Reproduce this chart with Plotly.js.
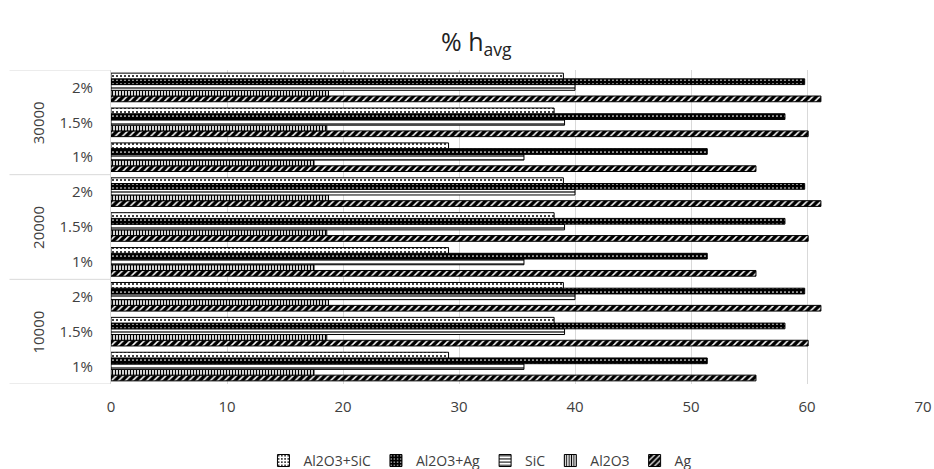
<!DOCTYPE html>
<html>
<head>
<meta charset="utf-8">
<script src="https://cdn.plot.ly/plotly-3.0.1.min.js"></script>
<style>html,body{margin:0;padding:0;background:#fff}#chart{width:934px;height:469px}</style>
</head>
<body>
<div id="chart"></div>
<script>
// Data
const groups = ['10000', '20000', '30000'];
const subs = ['1%', '1.5%', '2%'];
const seriesNames = ['Al2O3+SiC', 'Al2O3+Ag', 'SiC', 'Al2O3', 'Ag'];
// values per category, order: 10000 1%,1.5%,2%, 20000 ..., 30000 ...
const al2o3SiC = [29.1, 38.2, 39.0, 29.1, 38.2, 39.0, 29.1, 38.2, 39.0];
const al2o3Ag  = [51.4, 58.1, 59.8, 51.4, 58.1, 59.8, 51.4, 58.1, 59.8];
const sic      = [35.6, 39.1, 40.0, 35.6, 39.1, 40.0, 35.6, 39.1, 40.0];
const al2o3    = [17.5, 18.6, 18.75, 17.5, 18.6, 18.75, 17.5, 18.6, 18.75];
const ag       = [55.6, 60.1, 61.2, 55.6, 60.1, 61.2, 55.6, 60.1, 61.2];

const cats = [];
const catText = [];
groups.forEach(g => subs.forEach(s => { cats.push(g + ' ' + s); catText.push(s); }));

const FONT = '"Open Sans", Lato, sans-serif';
const TXT = '#404040';
const line = {color: '#000', width: 1};
function tr(name, vals, marker) {
  return {type: 'bar', orientation: 'h', name: name, y: cats, x: vals,
          marker: Object.assign({line: line}, marker), hoverinfo: 'x+name'};
}
// bottom-to-top drawing order within a group: Ag, Al2O3, SiC, Al2O3+Ag, Al2O3+SiC
const data = [
  tr(seriesNames[4], ag, {color: '#000', pattern: {shape: '/', bgcolor: '#000', fgcolor: '#fff', size: 5, solidity: 0.3}}),
  tr(seriesNames[3], al2o3, {color: '#fff', pattern: {shape: '|', bgcolor: '#fff', fgcolor: '#000', size: 3, solidity: 0.45}}),
  tr(seriesNames[2], sic, {color: '#fff', pattern: {shape: '-', bgcolor: '#fff', fgcolor: '#000', size: 4, solidity: 0.3}}),
  tr(seriesNames[1], al2o3Ag, {color: '#000', pattern: {shape: '.', bgcolor: '#000', fgcolor: '#fff', size: 4, solidity: 0.15}}),
  tr(seriesNames[0], al2o3SiC, {color: '#fff', pattern: {shape: '.', bgcolor: '#fff', fgcolor: '#000', size: 4, solidity: 0.2}})
];

const divLine = {color: '#d9d9d9', width: 1};
const shapes = [];
for (let i = 0; i <= groups.length; i++) {
  const yv = i * subs.length - 0.5;
  shapes.push({type: 'line', xref: 'paper', yref: 'y', x0: -0.125, x1: 0, y0: yv, y1: yv, line: divLine});
}
const annotations = groups.map((g, i) => ({
  text: g, xref: 'paper', yref: 'y', x: -0.09, xanchor: 'center', y: i * subs.length + (subs.length - 1) / 2,
  textangle: -90, showarrow: false, font: {family: FONT, size: 15, color: TXT}
}));

const layout = {
  width: 934, height: 469,
  margin: {l: 111, r: 11, t: 70, b: 85, autoexpand: false},
  paper_bgcolor: '#fff', plot_bgcolor: '#fff',
  title: {text: '% h<sub>avg</sub>', x: 0.51, xanchor: 'center', y: 0.91, yanchor: 'middle',
          font: {family: FONT, size: 25, color: '#222'}},
  barmode: 'group', bargap: 0.18, bargroupgap: 0,
  xaxis: {range: [0, 70], dtick: 10, showgrid: true, gridcolor: '#d9d9d9', gridwidth: 1,
          zeroline: false, showline: false, ticks: '', ticklabelstandoff: 12, automargin: false,
          tickfont: {family: FONT, size: 15, color: TXT}},
  yaxis: {type: 'category', categoryorder: 'array', categoryarray: cats,
          tickvals: cats, ticktext: catText, showgrid: false, zeroline: false, automargin: false,
          showline: true, linecolor: '#d9d9d9', linewidth: 1, ticks: '', ticklabelstandoff: 14,
          range: [-0.5, cats.length - 0.5],
          tickfont: {family: FONT, size: 15, color: TXT}},
  legend: {orientation: 'h', traceorder: 'reversed', x: 0.455, xanchor: 'center', y: -0.245, yanchor: 'middle',
           font: {family: FONT, size: 14, color: TXT}, itemwidth: 30},
  shapes: shapes,
  annotations: annotations,
  showlegend: true
};
Plotly.newPlot('chart', data, layout, {displayModeBar: false, staticPlot: true});
</script>
</body>
</html>
